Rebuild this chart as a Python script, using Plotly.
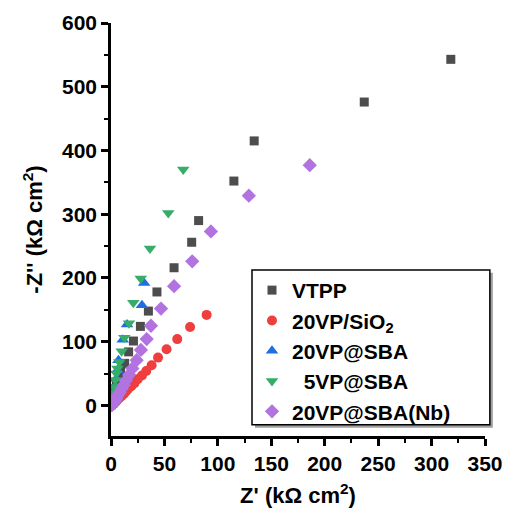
import plotly.graph_objects as go

# data (Z' and -Z'' in kOhm cm2)
vtpp_x = [0.5, 1, 1.5, 2, 3, 4, 5, 7, 9, 12.8, 16.5, 21, 27.5, 35, 43, 59, 75.5, 82, 115, 134, 237, 318]
vtpp_y = [1, 4, 8, 13, 19, 26, 34, 44, 55, 66, 84, 101, 124, 148, 178, 216, 256, 290, 352, 415, 476, 543]

sio2_x = [1, 2, 3, 4, 5, 6, 8, 10, 12, 14, 16, 19, 22, 25, 29, 33, 38, 44, 52, 62, 74, 89.5]
sio2_y = [1, 2, 3.5, 5, 7, 9, 12, 15, 18, 22, 26, 30, 35, 41, 47, 54, 63, 75, 88, 104, 123, 142]

sba_x = [0.5, 1, 1.5, 2, 3, 4, 5, 6, 7, 11, 15, 29, 31]
sba_y = [1, 4, 8, 14, 22, 31, 42, 55, 71, 103, 127, 157, 192]

sba5_x = [0.3, 0.7, 1, 1.5, 2, 3, 4, 5, 6, 7.8, 10, 12.5, 16.8, 20.9, 27.8, 36.5, 53.6, 67.6]
sba5_y = [1, 4, 8, 13, 20, 29, 40, 50, 58, 68, 85, 106, 129, 161, 199, 246, 302, 370]

nb_x = [0.5, 1, 2, 3, 4, 5, 6, 8, 10, 12, 14, 17, 20, 24, 28, 33.4, 37.4, 46.8, 59, 76, 93.5, 129, 186]
nb_y = [0.5, 1, 3, 5, 8, 11, 15, 20, 26, 32, 39, 48, 58, 71, 87, 104, 125, 152, 187, 226, 273, 329, 377]

names = ["VTPP", "20VP/SiO<sub>2</sub>", "20VP@SBA", "\u00a0\u00a05VP@SBA", "20VP@SBA(Nb)"]
colors = ["#4d4d4d", "#ef3e3e", "#1f6fe0", "#37ad6a", "#b273e0"]
symbols = ["square", "circle", "triangle-up", "triangle-down", "diamond"]
sizes = [9, 10, 11, 11, 11]
xs = [vtpp_x, sio2_x, sba_x, sba5_x, nb_x]
ys = [vtpp_y, sio2_y, sba_y, sba5_y, nb_y]

font = "Liberation Sans, Arial, sans-serif"

fig = go.Figure()
for i in range(5):
    fig.add_trace(go.Scatter(
        x=xs[i], y=ys[i], mode="markers", name=names[i],
        legendgroup="g%d" % i,
        marker=dict(symbol=symbols[i], size=sizes[i], color=colors[i], line=dict(width=0)),
    ))

# legend frame with a drop shadow
fig.add_shape(type="rect", xref="paper", yref="paper", x0=0.385, x1=1.021, y0=0.020, y1=0.395,
              fillcolor="#a0a0a0", line=dict(width=0), layer="below")
fig.add_shape(type="rect", xref="paper", yref="paper", x0=0.377, x1=1.013, y0=0.027, y1=0.402,
              fillcolor="white", line=dict(color="black", width=1.5), layer="below")

axis_common = dict(
    showline=True, linecolor="black", linewidth=2.5, mirror=False,
    ticks="outside", ticklen=7, tickwidth=2.5, tickcolor="black",
    showgrid=False, zeroline=False, automargin=False,
    tickfont=dict(family=font, size=21, color="black", weight="bold"),
)

fig.update_layout(
    width=506, height=510,
    margin=dict(l=111, r=21, t=23, b=74),
    plot_bgcolor="white", paper_bgcolor="white",
    showlegend=True,
    legend=dict(x=0.377, y=0.402, xanchor="left", yanchor="top",
                bgcolor="rgba(0,0,0,0)", borderwidth=0,
                traceorder="grouped", tracegroupgap=0,
                font=dict(family=font, size=21, color="black", weight="bold")),
    xaxis=dict(range=[0, 350], dtick=50,
               minor=dict(dtick=25, ticks="outside", ticklen=4, tickwidth=2, tickcolor="black"),
               title=dict(text="Z' (k\u03a9 cm<sup>2</sup>)", standoff=14,
                          font=dict(family=font, size=22, color="black", weight="bold")),
               **axis_common),
    yaxis=dict(range=[-48, 600], dtick=100,
               minor=dict(dtick=50, ticks="outside", ticklen=4, tickwidth=2, tickcolor="black"),
               title=dict(text="-Z'' (k\u03a9 cm<sup>2</sup>)", standoff=14,
                          font=dict(family=font, size=22, color="black", weight="bold")),
               **axis_common),
)

# drop the default 8px page margin so the figure sits at the window corner
fig.write_html("out.html", config={"displayModeBar": False},
               post_script="document.body.style.margin='0px';")
